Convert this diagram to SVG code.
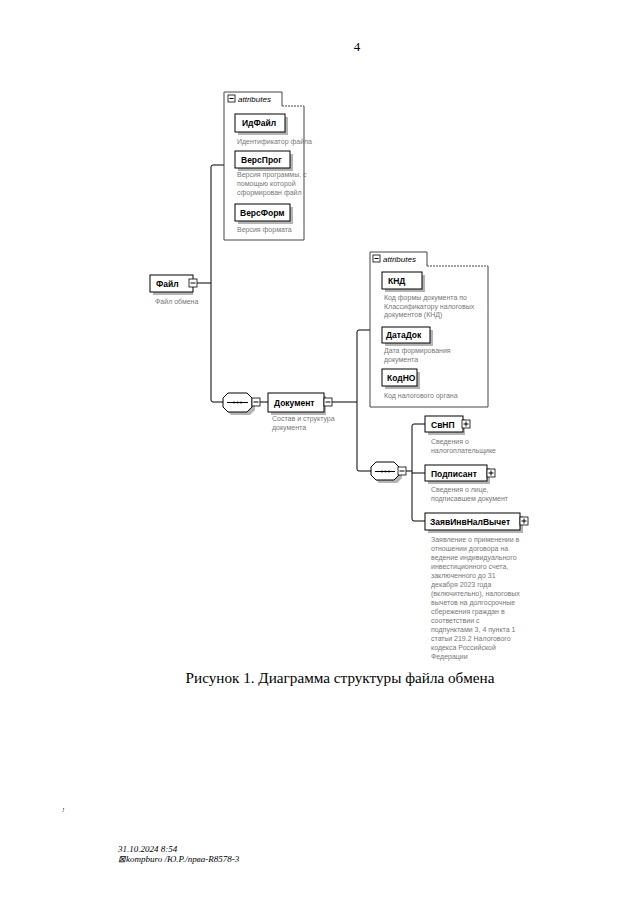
<svg xmlns="http://www.w3.org/2000/svg" width="640" height="900" viewBox="0 0 640 900">
<defs>
<style>
.bg{fill:#fff}
.box{fill:#fff;stroke:#000;stroke-width:1}
.shadow{fill:#b4b4b4}
.lbl{font-family:"Liberation Sans",Arial,sans-serif;font-size:8.5px;font-weight:bold;fill:#000}
.desc{font-family:"Liberation Sans",Arial,sans-serif;font-size:7px;fill:#777}
.attr{fill:#fff;stroke:#444;stroke-width:1}
.attrtxt{font-family:"Liberation Sans",Arial,sans-serif;font-size:8px;font-style:italic;fill:#000}
.con{fill:none;stroke:#000;stroke-width:1}
.sq{fill:#fff;stroke:#000;stroke-width:0.8}
.sign{stroke:#000;stroke-width:1}
.serif{font-family:"Liberation Serif","Times New Roman",serif;fill:#000}
</style>
</defs>
<rect class="bg" x="0" y="0" width="640" height="900"/>

<text class="serif" x="357" y="51" font-size="13" text-anchor="middle">4</text>

<!-- connectors -->
<g id="connectors">
<path class="con" d="M197,283 H211"/>
<path class="con" d="M224,165 H213 Q211,165 211,167 V400 Q211,402 213,402 H223"/>
<path class="con" d="M260,402 H268"/>
<path class="con" d="M332,402 H357"/>
<path class="con" d="M370,330 H359 Q357,330 357,332 V469 Q357,471 359,471 H371"/>
<path class="con" d="M405,471 H412"/>
<path class="con" d="M425,424 H414 Q412,424 412,426 V519 Q412,521 414,521 H425"/>
<path class="con" d="M412,473 H425"/>
</g>

<!-- attributes box 1 -->
<g id="attrs-file">
<path class="attr" d="M224,106 V240 H304 V106"/>
<path class="attr" d="M282,106 H304" stroke-dasharray="2,1"/>
<path class="attr" d="M224,106 V92 H282 V106"/>
<rect class="sq" x="228" y="95" width="7" height="7"/>
<path class="sign" d="M229.5,98.5 H233.5"/>
<text class="attrtxt" x="238" y="102">attributes</text>
</g>

<g id="node-idfile">
<rect class="shadow" x="238" y="117" width="50" height="18"/>
<rect class="box" x="235" y="114" width="50" height="18"/>
<text class="lbl" x="242" y="126">ИдФайл</text>
<text class="desc" x="237" y="144">Идентификатор файла</text>
</g>

<g id="node-versprog">
<rect class="shadow" x="238" y="154" width="55" height="17"/>
<rect class="box" x="235" y="151" width="55" height="17"/>
<text class="lbl" x="241" y="162.5">ВерсПрог</text>
<text class="desc" x="237" y="177">Версия программы, с</text>
<text class="desc" x="237" y="186">помощью которой</text>
<text class="desc" x="237" y="195">сформирован файл</text>
</g>

<g id="node-versform">
<rect class="shadow" x="238" y="207" width="55" height="17"/>
<rect class="box" x="235" y="204" width="55" height="17"/>
<text class="lbl" x="240" y="215.5">ВерсФорм</text>
<text class="desc" x="237" y="232">Версия формата</text>
</g>

<g id="node-file">
<rect class="shadow" x="153" y="278" width="40" height="17"/>
<rect class="box" x="150" y="275" width="43" height="17"/>
<text class="lbl" x="156" y="286.5">Файл</text>
<rect class="sq" x="189" y="279" width="8" height="8"/>
<path class="sign" d="M190.5,283 H195.5"/>
<text class="desc" x="155" y="304">Файл обмена</text>
</g>

<!-- sequence 1 -->
<g id="seq-file">
<path class="shadow" d="M231,396 H250 L255,401 V410 L250,415 H231 L226,410 V401 Z"/>
<path class="box" d="M228,393 H247 L252,398 V407 L247,412 H228 L223,407 V398 Z"/>
<path class="con" d="M227,402.5 H248"/>
<circle cx="234" cy="402.5" r="0.9" fill="#000"/>
<circle cx="237.5" cy="402.5" r="0.9" fill="#000"/>
<circle cx="241" cy="402.5" r="0.9" fill="#000"/>
<rect class="sq" x="252" y="398" width="8" height="8"/>
<path class="sign" d="M253.5,402 H258.5"/>
</g>

<g id="node-document">
<rect class="shadow" x="271" y="396" width="55" height="19"/>
<rect class="box" x="268" y="393" width="56" height="19"/>
<text class="lbl" x="274" y="405.5">Документ</text>
<rect class="sq" x="324" y="398" width="8" height="8"/>
<path class="sign" d="M325.5,402 H330.5"/>
<text class="desc" x="272" y="421">Состав и структура</text>
<text class="desc" x="272" y="430">документа</text>
</g>

<!-- attributes box 2 -->
<g id="attrs-document">
<path class="attr" d="M370,266 V407 H488 V266"/>
<path class="attr" d="M427,266 H488" stroke-dasharray="2,1"/>
<path class="attr" d="M370,266 V252 H427 V266"/>
<rect class="sq" x="373" y="255" width="7" height="7"/>
<path class="sign" d="M374.5,258.5 H378.5"/>
<text class="attrtxt" x="383" y="262">attributes</text>
</g>

<g id="node-knd">
<rect class="shadow" x="385" y="275" width="40" height="17"/>
<rect class="box" x="382" y="272" width="40" height="17"/>
<text class="lbl" x="388" y="283.5">КНД</text>
<text class="desc" x="384" y="300">Код формы документа по</text>
<text class="desc" x="384" y="308.5">Классификатору налоговых</text>
<text class="desc" x="384" y="317">документов (КНД)</text>
</g>

<g id="node-datadok">
<rect class="shadow" x="385" y="330" width="48" height="16"/>
<rect class="box" x="382" y="327" width="48" height="16"/>
<text class="lbl" x="386" y="338">ДатаДок</text>
<text class="desc" x="384" y="353">Дата формирования</text>
<text class="desc" x="384" y="362">документа</text>
</g>

<g id="node-kodno">
<rect class="shadow" x="385" y="372" width="35" height="17"/>
<rect class="box" x="382" y="369" width="35" height="17"/>
<text class="lbl" x="387" y="380.5">КодНО</text>
<text class="desc" x="384" y="398">Код налогового органа</text>
</g>

<!-- sequence 2 -->
<g id="seq-document">
<path class="shadow" d="M379,465 H397 L402,470 V478 L397,483 H379 L374,478 V470 Z"/>
<path class="box" d="M376,462 H394 L399,467 V475 L394,480 H376 L371,475 V467 Z"/>
<path class="con" d="M375,471.5 H395"/>
<circle cx="382" cy="471.5" r="0.9" fill="#000"/>
<circle cx="385.5" cy="471.5" r="0.9" fill="#000"/>
<circle cx="389" cy="471.5" r="0.9" fill="#000"/>
<rect class="sq" x="398" y="467" width="8" height="8"/>
<path class="sign" d="M399.5,471 H404.5"/>
</g>

<g id="node-svnp">
<rect class="shadow" x="428" y="419" width="37" height="16"/>
<rect class="box" x="425" y="416" width="38" height="16"/>
<text class="lbl" x="431" y="427.5">СвНП</text>
<rect class="sq" x="462" y="420" width="8" height="8"/>
<path class="sign" d="M463.5,424 H468.5 M466,421.5 V426.5"/>
<text class="desc" x="431" y="444">Сведения о</text>
<text class="desc" x="431" y="453">налогоплательщике</text>
</g>

<g id="node-podpisant">
<rect class="shadow" x="428" y="468" width="62" height="16"/>
<rect class="box" x="425" y="465" width="62" height="16"/>
<text class="lbl" x="431" y="476.5">Подписант</text>
<rect class="sq" x="487" y="469" width="8" height="8"/>
<path class="sign" d="M488.5,473 H493.5 M491,470.5 V475.5"/>
<text class="desc" x="431" y="492">Сведения о лице,</text>
<text class="desc" x="431" y="501">подписавшем документ</text>
</g>

<g id="node-zayav">
<rect class="shadow" x="428" y="516" width="95" height="17"/>
<rect class="box" x="425" y="513" width="95" height="17"/>
<text class="lbl" x="430" y="524.5">ЗаявИнвНалВычет</text>
<rect class="sq" x="520" y="517" width="8" height="8"/>
<path class="sign" d="M521.5,521 H526.5 M524,518.5 V523.5"/>
<text class="desc" x="431" y="542">Заявление о применении в</text>
<text class="desc" x="431" y="551">отношении договора на</text>
<text class="desc" x="431" y="560">ведение индивидуального</text>
<text class="desc" x="431" y="569">инвестиционного счета,</text>
<text class="desc" x="431" y="578">заключенного до 31</text>
<text class="desc" x="431" y="587">декабря 2023 года</text>
<text class="desc" x="431" y="596">(включительно), налоговых</text>
<text class="desc" x="431" y="605">вычетов на долгосрочные</text>
<text class="desc" x="431" y="614">сбережения граждан в</text>
<text class="desc" x="431" y="623">соответствии с</text>
<text class="desc" x="431" y="632">подпунктами 3, 4 пункта 1</text>
<text class="desc" x="431" y="641">статьи 219.2 Налогового</text>
<text class="desc" x="431" y="650">кодекса Российской</text>
<text class="desc" x="431" y="659">Федерации</text>
</g>

<text class="serif" x="340" y="683" font-size="15.2" text-anchor="middle">Рисунок 1. Диаграмма структуры файла обмена</text>

<text class="serif" x="62" y="812" font-size="7" font-style="italic" fill="#555">!</text>
<text class="serif" x="118" y="852" font-size="9" font-style="italic">31.10.2024 8:54</text>
<text class="serif" x="118" y="862" font-size="9" font-style="italic">⊠kompburo /Ю.Р./прва-R8578-3</text>
</svg>
